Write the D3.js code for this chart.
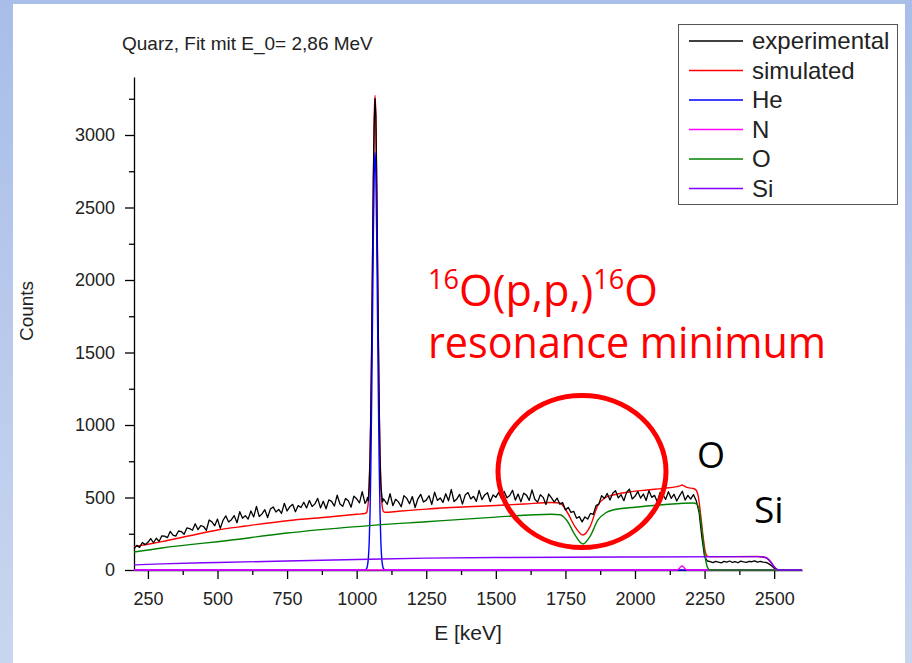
<!DOCTYPE html>
<html>
<head>
<meta charset="utf-8">
<style>
  body { margin: 0; background: #fff; }
  svg { display: block; }
  .axis text { font: 18px "Liberation Sans", Arial, sans-serif; fill: #222; }
  .axis path, .axis line { fill: none; stroke: #000; stroke-width: 1.3px; }
  .lbl { font-family: "Liberation Sans", Arial, sans-serif; fill: #222; }
  .note { font-family: "Open Sans", sans-serif; }
</style>
</head>
<body>
<svg id="chart" width="912" height="663"></svg>
<script src="https://d3js.org/d3.v7.min.js"></script>
<script>
// ---- data ----
var xTicks = [250, 500, 750, 1000, 1250, 1500, 1750, 2000, 2250, 2500];
var xMinor = [375, 625, 875, 1125, 1375, 1625, 1875, 2125, 2375];
var yTicks = [0, 500, 1000, 1500, 2000, 2500, 3000];
var yMinor = [250, 750, 1250, 1750, 2250, 2750, 3250];

var seriesNames = ["experimental", "simulated", "He", "N", "O", "Si"];
var seriesColors = ["#000000", "#ff0000", "#0000ff", "#ff00ff", "#008000", "#8000ff"];

// experimental spectrum, 10 keV channels (below and above the He peak)
var expStep = 10;
var expLowStart = 200;
var expLowCounts = [
  146,170,156,190,175,191,217,188,219,197,
  236,234,223,266,240,234,269,265,246,290,
  285,274,319,278,306,300,273,345,332,305,
  351,287,343,373,331,347,375,326,402,357,
  375,351,407,366,438,368,387,416,362,420,
  435,400,418,390,460,407,437,453,402,444,
  431,467,428,479,438,456,494,428,474,422,
  484,473,441,516,455,439,493,477,433,509,
  491,463,540,459
];
// He peak, finer steps [E, counts]
var expPeak = [
  [1036,478],[1039,500],[1042,478],[1045,590],[1048,765],[1051,1090],[1054,1560],
  [1057,2150],[1060,2700],[1063,3080],[1066,3250],[1069,3130],[1072,2650],[1075,2120],
  [1078,1600],[1081,1120],[1084,760],[1087,590],[1090,520],[1093,470],[1096,490]
];
var expHighStart = 1100;
var expHighCounts = [
  481,453,526,444,488,470,436,513,494,457,
  507,431,491,522,469,482,512,452,537,480,
  497,466,526,477,555,472,490,522,454,518,
  534,490,508,473,549,485,518,533,471,518,
  501,535,494,542,498,514,550,482,524,470,
  530,516,480,553,488,468,519,501,452,524,
  498,468,496,453,465,414,432,397,404,357,
  368,332,366,351,390,383,444,454,513,493,
  528,482,529,547,497,519,478,536,558,490,
  508,541,496,524,479,547,501,515,470,535,
  521,487,540,494,522,476,511,543,482,515,
  489,520,478,400,230,92,62,58,51,60,
  54,49,59,55,62,52,57,50,61,56,
  53,60,57,63,55,59,54,52,44,30,
  12,4,2,0,3,1,0,2,1,0,
  1
];

// simulated total [E, counts]
var simulated = [
  [200,161],[250,178],[300,196],[400,236],[500,276],[600,303],[750,340],[900,366],
  [1000,384],[1030,390],[1036,397],[1039,422],[1042,474],[1045,581],[1048,782],[1051,1110],
  [1054,1576],[1057,2139],[1060,2698],[1063,3116],[1066,3272],[1069,3116],[1072,2698],
  [1075,2139],[1078,1576],[1081,1110],[1084,782],[1087,581],[1090,474],[1093,424],
  [1096,403],[1102,398],[1150,405],[1250,420],[1400,436],[1500,445],[1600,455],
  [1700,466],[1730,462],[1756,400],[1785,297],[1813,241],[1838,297],[1867,448],
  [1890,495],[1921,517],[1980,538],[2043,552],[2100,563],[2150,575],[2162,580],
  [2169,586],[2176,580],[2190,568],[2210,562],[2220,550],[2228,500],[2236,380],
  [2244,240],[2252,130],[2258,98],[2265,92],[2440,93],[2460,90],[2475,80],[2490,50],
  [2500,22],[2510,5],[2520,0],[2600,0]
];
var heCounts = [
  [200,0],[1030,0],[1036,11],[1039,32],[1042,82],[1045,189],[1048,390],[1051,718],
  [1054,1184],[1057,1747],[1060,2306],[1063,2724],[1066,2880],[1069,2724],[1072,2306],
  [1075,1747],[1078,1184],[1081,718],[1084,390],[1087,189],[1090,82],[1093,32],
  [1096,11],[1102,0],[2600,0]
];
var nCounts = [
  [200,0],[2150,0],[2158,8],[2164,22],[2169,28],[2174,22],[2180,8],[2188,0],[2600,0]
];
var oCounts = [
  [200,124],[300,152],[400,175],[500,195],[750,255],[1000,299],[1250,333],[1500,365],
  [1700,385],[1730,381],[1756,340],[1785,240],[1813,179],[1838,230],[1867,345],
  [1895,395],[1921,414],[2000,433],[2043,441],[2100,450],[2209,462],[2222,455],
  [2232,400],[2242,250],[2252,90],[2260,20],[2270,0],[2600,0]
];
var siCounts = [
  [200,35],[300,42],[500,52],[750,62],[1000,72],[1250,82],[1500,86],[2000,90],
  [2440,92],[2460,90],[2475,80],[2490,50],[2500,22],[2510,5],[2520,0],[2600,0]
];

// ---- drawing ----
var svg = d3.select("#chart");

// slide frame
var defs = svg.append("defs");
var grad = defs.append("linearGradient").attr("id", "side")
  .attr("x1", 0).attr("y1", 0).attr("x2", 0).attr("y2", 1);
grad.append("stop").attr("offset", "0%").attr("stop-color", "#a8bde8");
grad.append("stop").attr("offset", "100%").attr("stop-color", "#c9d6ef");
svg.append("rect").attr("x", 0).attr("y", 0).attr("width", 912).attr("height", 4).attr("fill", "#a9bfe8");
svg.append("rect").attr("x", 0).attr("y", 0).attr("width", 13).attr("height", 663).attr("fill", "url(#side)");
svg.append("rect").attr("x", 905).attr("y", 0).attr("width", 7).attr("height", 663).attr("fill", "url(#side)");

var x = d3.scaleLinear().domain([200, 2600]).range([134, 802]);
var y = d3.scaleLinear().domain([0, 3400]).range([570, 77]);

// axes
svg.append("g").attr("class", "axis")
  .attr("transform", "translate(0,570)")
  .call(d3.axisBottom(x).tickValues(xMinor).tickSize(5).tickFormat(""))
  .select(".domain").remove();
svg.append("g").attr("class", "axis")
  .attr("transform", "translate(134,0)")
  .call(d3.axisLeft(y).tickValues(yMinor).tickSize(5).tickFormat(""))
  .select(".domain").remove();
svg.append("g").attr("class", "axis")
  .attr("transform", "translate(0,570)")
  .call(d3.axisBottom(x).tickValues(xTicks).tickSize(9).tickSizeOuter(0)
    .tickPadding(13).tickFormat(d3.format("d")));
svg.append("g").attr("class", "axis")
  .attr("transform", "translate(134,0)")
  .call(d3.axisLeft(y).tickValues(yTicks).tickSize(9).tickSizeOuter(0)
    .tickPadding(10).tickFormat(d3.format("d")));

svg.append("text").attr("class", "lbl")
  .attr("x", 468).attr("y", 640).attr("text-anchor", "middle")
  .style("font-size", "21px").text("E [keV]");
svg.append("text").attr("class", "lbl")
  .attr("transform", "translate(33,311) rotate(-90)").attr("text-anchor", "middle")
  .style("font-size", "19px").text("Counts");
svg.append("text").attr("class", "lbl")
  .attr("x", 122).attr("y", 50)
  .style("font-size", "19px").text("Quarz, Fit mit E_0= 2,86 MeV");

// series (simulated under the measured data, element curves on top)
var expPoints = expLowCounts.map(function(c, i) { return [expLowStart + i * expStep, c]; })
  .concat(expPeak)
  .concat(expHighCounts.map(function(c, i) { return [expHighStart + i * expStep, c]; }));

var rawLine = d3.line().x(function(d) { return x(d[0]); }).y(function(d) { return y(d[1]); });
var smoothLine = d3.line().curve(d3.curveMonotoneX)
  .x(function(d) { return x(d[0]); }).y(function(d) { return y(d[1]); });

var series = [expPoints, simulated, heCounts, nCounts, oCounts, siCounts];
[1, 0, 2, 3, 4, 5].forEach(function(i) {
  svg.append("path")
    .attr("d", i == 0 ? rawLine(series[i]) : smoothLine(series[i]))
    .attr("fill", "none")
    .attr("stroke", seriesColors[i])
    .attr("stroke-width", i == 0 ? 1.3 : 1.4)
    .attr("stroke-linejoin", "round");
});

// legend
svg.append("rect").attr("x", 678.5).attr("y", 24.5).attr("width", 219).attr("height", 180)
  .attr("fill", "#fff").attr("stroke", "#555").attr("stroke-width", 1);
var leg = svg.append("g").selectAll("g").data(seriesNames).enter().append("g")
  .attr("transform", function(d, i) { return "translate(0," + (41 + i * 29.5) + ")"; });
leg.append("line").attr("x1", 689).attr("x2", 743)
  .attr("stroke", function(d, i) { return seriesColors[i]; }).attr("stroke-width", 1.3);
leg.append("text").attr("class", "lbl").attr("x", 752).attr("dy", "0.35em")
  .style("font-size", "24px").text(function(d) { return d; });

// annotations
svg.append("ellipse").attr("cx", 582).attr("cy", 471.5).attr("rx", 84).attr("ry", 76)
  .attr("fill", "none").attr("stroke", "#ff0000").attr("stroke-width", 5);

var t1 = svg.append("text").attr("class", "note")
  .attr("x", 428).attr("y", 306).attr("fill", "#ff0000").style("font-size", "43px")
  .attr("textLength", 230).attr("lengthAdjust", "spacingAndGlyphs");
t1.append("tspan").attr("dy", -17).style("font-size", "27px").text("16");
t1.append("tspan").attr("dy", 17).text("O(p,p,)");
t1.append("tspan").attr("dy", -17).style("font-size", "27px").text("16");
t1.append("tspan").attr("dy", 17).text("O");

svg.append("text").attr("class", "note")
  .attr("x", 428).attr("y", 358).attr("fill", "#ff0000").style("font-size", "43px")
  .attr("textLength", 398).attr("lengthAdjust", "spacingAndGlyphs")
  .text("resonance minimum");

svg.append("text").attr("class", "note")
  .attr("x", 697).attr("y", 468).attr("fill", "#000").style("font-size", "36px").text("O");
svg.append("text").attr("class", "note")
  .attr("x", 754).attr("y", 523).attr("fill", "#000").style("font-size", "37px").text("Si");
</script>
</body>
</html>
